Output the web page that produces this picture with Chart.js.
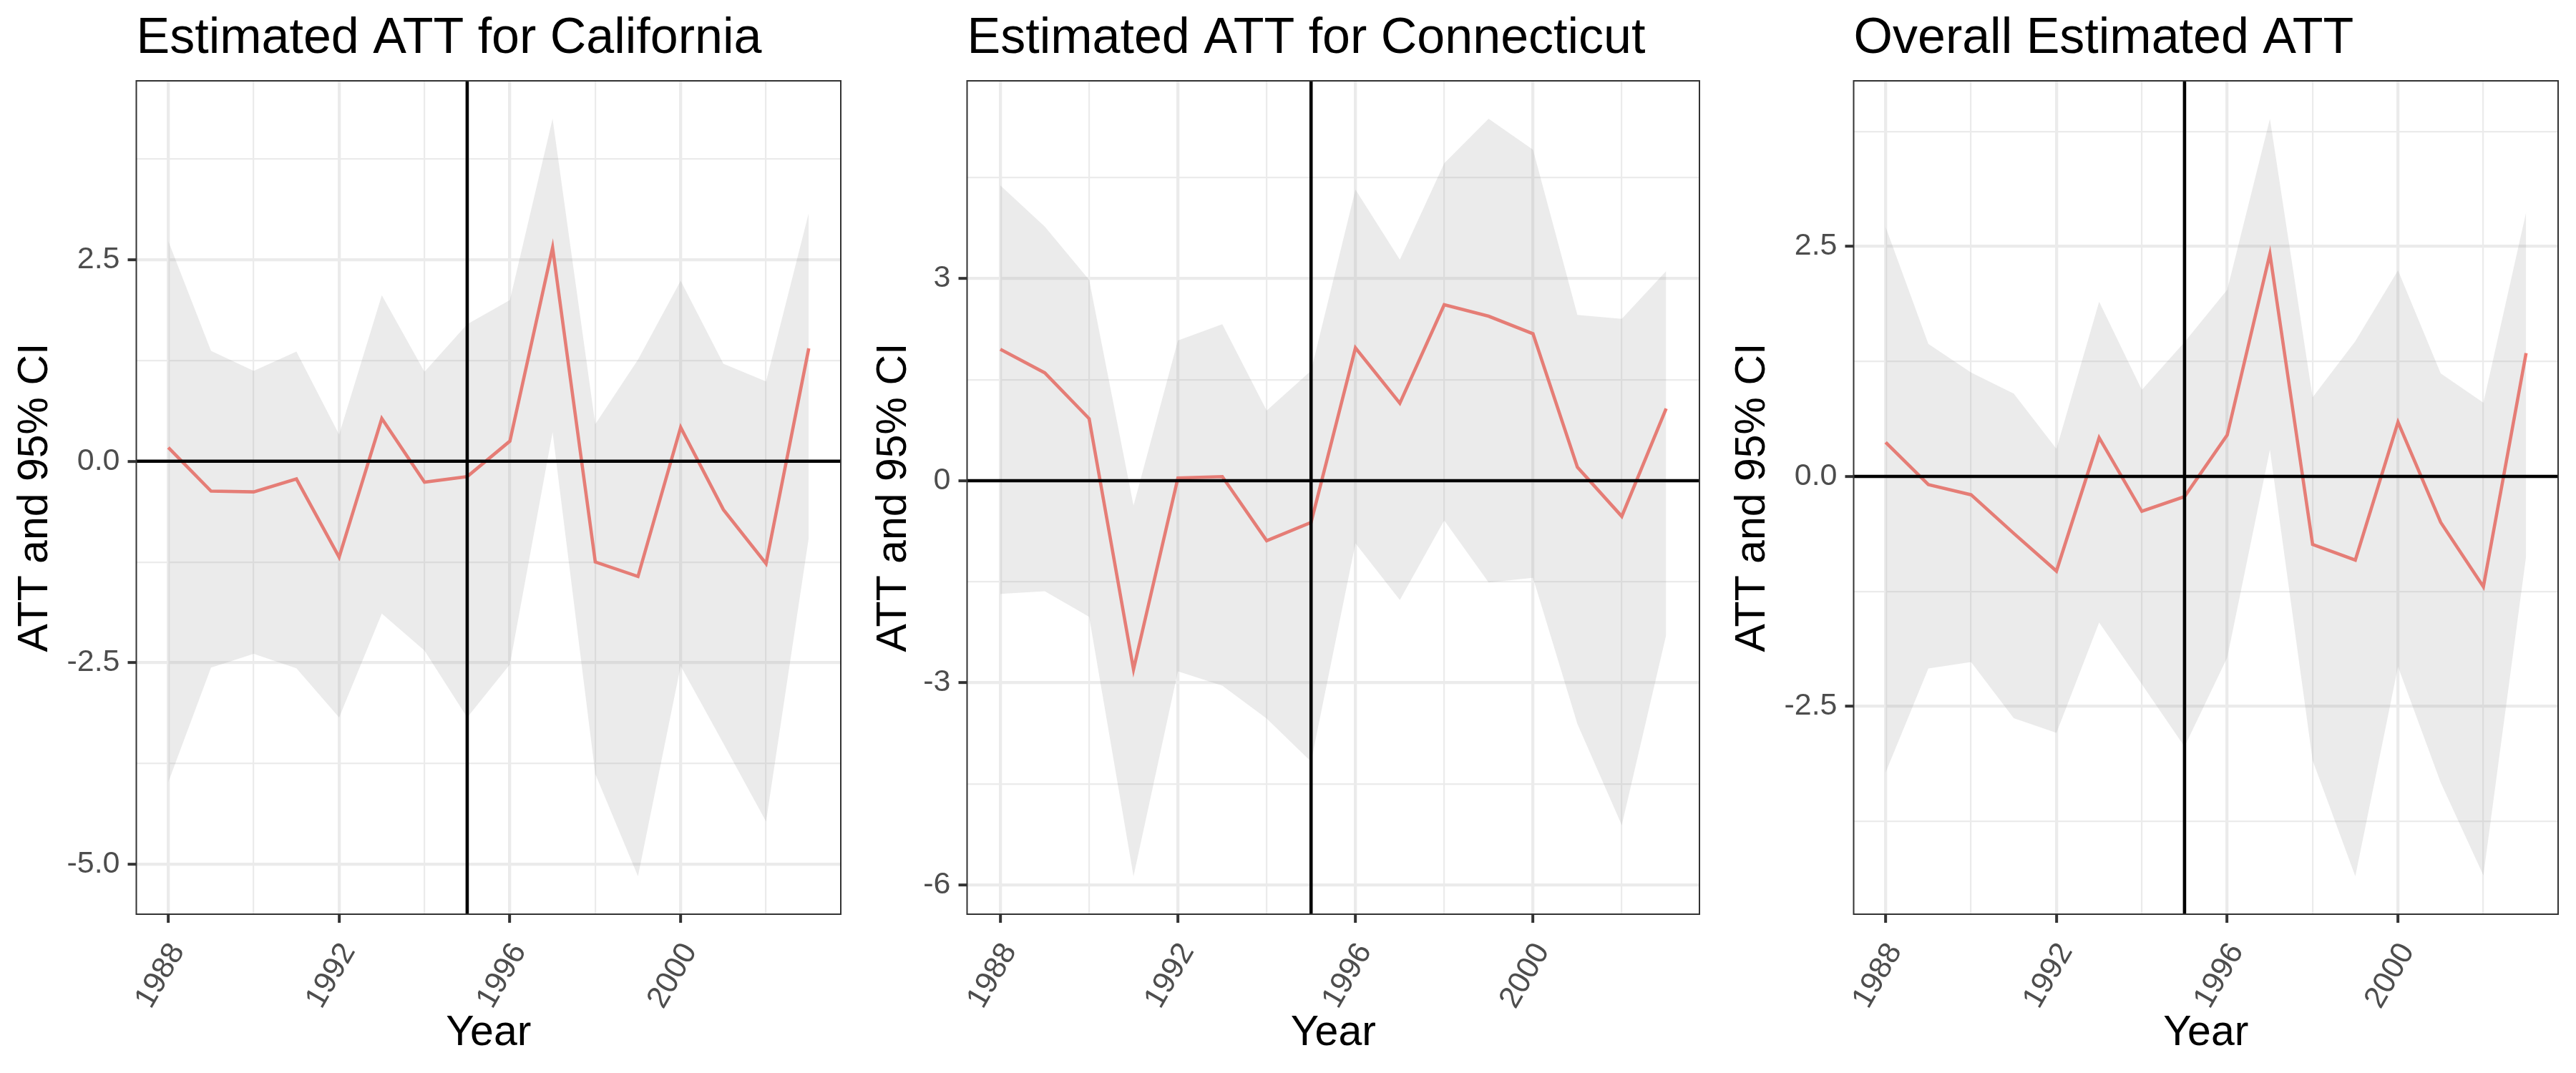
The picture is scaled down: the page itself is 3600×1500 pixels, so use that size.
<!doctype html>
<html>
<head>
<title>Estimated ATT</title>
<script src="https://cdn.jsdelivr.net/npm/chart.js@4.4.0/dist/chart.umd.min.js"></script>
<style>
body { margin: 0; background: #fff; }
.panel { position: absolute; top: 0; width: 1200px; height: 1500px; }
</style>
</head>
<body>
<div class="panel" style="left:0"><canvas id="ca"></canvas></div>
<div class="panel" style="left:1200px"><canvas id="ct"></canvas></div>
<div class="panel" style="left:2400px"><canvas id="all"></canvas></div>
<script>
// years and the year the policy starts
const years = [1988, 1989, 1990, 1991, 1992, 1993, 1994, 1995, 1996, 1997, 1998, 1999, 2000, 2001, 2002, 2003];
const yearBreaks = [1988, 1992, 1996, 2000];
const treatYear = 1995;

// California
const caEst   = [0.17, -0.37, -0.38, -0.22, -1.19, 0.53, -0.26, -0.19, 0.25, 2.65, -1.25, -1.43, 0.42, -0.60, -1.27, 1.40];
const caUpper = [2.73, 1.37, 1.12, 1.36, 0.33, 2.06, 1.11, 1.70, 2.00, 4.25, 0.46, 1.26, 2.24, 1.21, 0.99, 3.08];
const caLower = [-3.98, -2.56, -2.39, -2.57, -3.18, -1.89, -2.35, -3.18, -2.52, 0.36, -3.88, -5.15, -2.54, -3.50, -4.47, -0.95];

// Connecticut
const ctEst   = [1.95, 1.60, 0.92, -2.80, 0.04, 0.06, -0.89, -0.62, 1.97, 1.15, 2.61, 2.44, 2.18, 0.20, -0.53, 1.07];
const ctUpper = [4.38, 3.77, 2.98, -0.37, 2.08, 2.32, 1.04, 1.63, 4.32, 3.28, 4.71, 5.37, 4.91, 2.46, 2.40, 3.11];
const ctLower = [-1.68, -1.64, -2.02, -5.87, -2.83, -3.04, -3.53, -4.17, -0.93, -1.77, -0.59, -1.51, -1.44, -3.61, -5.11, -2.29];

// overall
const allEst   = [0.37, -0.09, -0.20, -0.62, -1.03, 0.42, -0.38, -0.22, 0.45, 2.42, -0.74, -0.91, 0.59, -0.50, -1.20, 1.34];
const allUpper = [2.71, 1.44, 1.13, 0.90, 0.30, 1.90, 0.94, 1.46, 2.03, 3.89, 0.86, 1.47, 2.24, 1.12, 0.80, 2.87];
const allLower = [-3.22, -2.09, -2.02, -2.63, -2.79, -1.59, -2.26, -2.94, -1.97, 0.29, -3.09, -4.35, -2.07, -3.33, -4.34, -0.87];

Chart.defaults.font.family = '"Liberation Sans", Arial, sans-serif';

const ribbonFill = 'rgba(153,153,153,0.2)';
const gridCol = '#EBEBEB';
const xStep = yearBreaks[1] - yearBreaks[0];

function isMajor(v, step) {
	return Math.abs(v / step - Math.round(v / step)) < 1e-6;
}

// zero line, treatment line and the panel border
const refLines = {
	id: 'refLines',
	afterDatasetsDraw(chart) {
		const { ctx, chartArea: a, scales: { x, y } } = chart;
		const px = x.getPixelForValue(treatYear);
		const py = y.getPixelForValue(0);
		ctx.save();
		ctx.strokeStyle = '#000';
		ctx.lineWidth = 4.6;
		ctx.beginPath();
		ctx.moveTo(a.left, py);
		ctx.lineTo(a.right, py);
		ctx.moveTo(px, a.top);
		ctx.lineTo(px, a.bottom);
		ctx.stroke();
		ctx.strokeStyle = '#333333';
		ctx.lineWidth = 2;
		ctx.strokeRect(a.left, a.top, a.right - a.left, a.bottom - a.top);
		ctx.restore();
	}
};

function makeChart(id, title, est, lower, upper, step, digits, yWidth) {
	const lo = Math.min(...lower), hi = Math.max(...upper);
	const pad = (hi - lo) * 0.05;
	const pts = arr => years.map((yr, i) => ({ x: yr, y: arr[i] }));

	new Chart(document.getElementById(id), {
		type: 'line',
		data: {
			datasets: [
				{ data: pts(upper), fill: '+1', backgroundColor: ribbonFill, borderColor: 'rgba(0,0,0,0)', borderWidth: 0, pointRadius: 0 },
				{ data: pts(lower), fill: false, borderColor: 'rgba(0,0,0,0)', borderWidth: 0, pointRadius: 0 },
				{ data: pts(est), fill: false, borderColor: '#F8766D', borderWidth: 4.6, pointRadius: 0 }
			]
		},
		options: {
			responsive: true,
			maintainAspectRatio: false,
			animation: false,
			layout: { padding: { left: 14, right: 25, top: 0, bottom: 20 } },
			plugins: {
				legend: { display: false },
				tooltip: { enabled: false },
				title: {
					display: true, text: title, align: 'start', fullSize: false, color: '#000',
					font: { size: 70, weight: 'normal' }, padding: { top: 13, bottom: 16 }
				}
			},
			scales: {
				x: {
					type: 'linear',
					min: years[0] - 0.05 * (years[years.length - 1] - years[0]),
					max: years[years.length - 1] + 0.05 * (years[years.length - 1] - years[0]),
					afterBuildTicks: s => {
						const t = [];
						for (let v = yearBreaks[0]; v <= s.max; v += xStep / 2) t.push({ value: v });
						s.ticks = t;
					},
					afterFit: s => { s.height = 202; },
					border: { display: false },
					grid: {
						color: gridCol,
						lineWidth: c => isMajor(c.tick.value - yearBreaks[0], xStep) ? 4.3 : 2.2,
						tickColor: c => isMajor(c.tick.value - yearBreaks[0], xStep) ? '#333333' : 'rgba(0,0,0,0)',
						tickLength: 12,
						tickWidth: 4
					},
					ticks: {
						autoSkip: false, minRotation: 60, maxRotation: 60, padding: 20, labelOffset: 13,
						color: '#4D4D4D', font: { size: 43 },
						callback: v => isMajor(v - yearBreaks[0], xStep) ? String(v) : ''
					},
					title: { display: true, text: 'Year', color: '#000', font: { size: 59 }, padding: 0 }
				},
				y: {
					type: 'linear',
					min: lo - pad,
					max: hi + pad,
					afterBuildTicks: s => {
						const t = [];
						const half = step / 2;
						for (let v = Math.ceil(s.min / half) * half; v <= s.max; v += half) t.push({ value: +v.toFixed(4) });
						s.ticks = t;
					},
					afterFit: s => { s.width = yWidth; },
					border: { display: false },
					grid: {
						color: gridCol,
						lineWidth: c => isMajor(c.tick.value, step) ? 4.3 : 2.2,
						tickColor: c => isMajor(c.tick.value, step) ? '#333333' : 'rgba(0,0,0,0)',
						tickLength: 12,
						tickWidth: 4
					},
					ticks: {
						padding: 11, color: '#4D4D4D', font: { size: 43 },
						callback: v => isMajor(v, step) ? v.toFixed(digits) : ''
					},
					title: { display: true, text: 'ATT and 95% CI', color: '#000', font: { size: 59 }, padding: 0 }
				}
			}
		},
		plugins: [refLines]
	});
}

makeChart('ca', 'Estimated ATT for California', caEst, caLower, caUpper, 2.5, 1, 176.5);
makeChart('ct', 'Estimated ATT for Connecticut', ctEst, ctLower, ctUpper, 3, 0, 137.5);
makeChart('all', 'Overall Estimated ATT', allEst, allLower, allUpper, 2.5, 1, 176.5);
</script>
</body>
</html>
